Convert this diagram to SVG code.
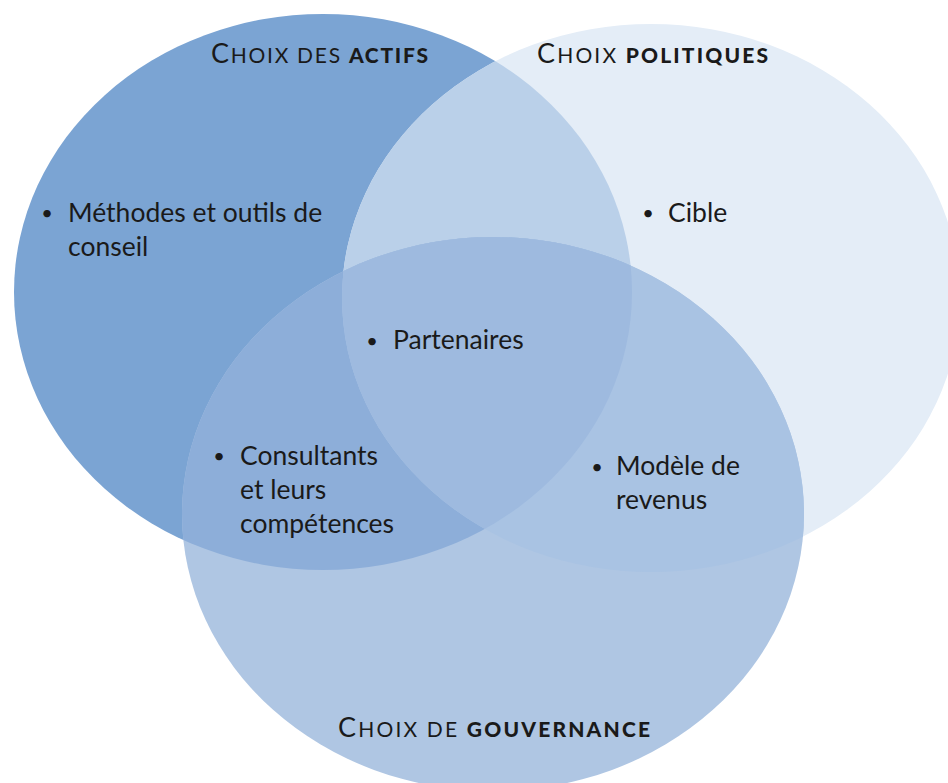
<svg xmlns="http://www.w3.org/2000/svg" width="948" height="783" viewBox="0 0 948 783">
<style>
text{font-family:Lato,"Liberation Sans",sans-serif;fill:#1a1a1a}
.t{font-size:26.5px}
.d{font-size:20px;text-anchor:middle}
.h{font-size:27px}
.sc{font-size:21px}
.b{font-weight:900}
</style>
<defs>
<ellipse id="eL" cx="323" cy="292" rx="309" ry="278"/>
<ellipse id="eR" cx="651" cy="298" rx="309" ry="274"/>
<ellipse id="eB" cx="493" cy="514" rx="311" ry="277"/>
<clipPath id="cL"><use href="#eL"/></clipPath>
<clipPath id="cR"><use href="#eR"/></clipPath>
</defs>
<rect width="948" height="783" fill="#ffffff"/>
<g id="circles">
<use href="#eL" fill="#7BA4D3"/>
<use href="#eR" fill="#E4EDF7"/>
<use href="#eB" fill="#AFC6E3"/>
<use href="#eR" fill="#BAD0E9" clip-path="url(#cL)"/>
<use href="#eB" fill="#8DAED9" clip-path="url(#cL)"/>
<use href="#eB" fill="#A9C3E3" clip-path="url(#cR)"/>
<g clip-path="url(#cL)"><use href="#eB" fill="#9EBADF" clip-path="url(#cR)"/></g>
</g>
<g id="actifs"><text x="211" y="63" textLength="217" lengthAdjust="spacing"><tspan class="h">C</tspan><tspan class="sc">HOIX DES </tspan><tspan class="sc b">ACTIFS</tspan></text>
<text class="d" x="47" y="220">•</text><text class="t" x="68" y="222">Méthodes et outils de</text><text class="t" x="68" y="256">conseil</text></g>
<g id="politiques"><text x="537" y="63" textLength="231" lengthAdjust="spacing"><tspan class="h">C</tspan><tspan class="sc">HOIX </tspan><tspan class="sc b">POLITIQUES</tspan></text>
<text class="d" x="648" y="220">•</text><text class="t" x="668" y="222">Cible</text></g>
<g id="gouvernance"><text x="338" y="737" textLength="312" lengthAdjust="spacing"><tspan class="h">C</tspan><tspan class="sc">HOIX DE </tspan><tspan class="sc b">GOUVERNANCE</tspan></text></g>
<g id="partenaires"><text class="d" x="372" y="348">•</text><text class="t" x="393" y="349">Partenaires</text></g>
<g id="consultants"><text class="d" x="219" y="463">•</text><text class="t" x="240" y="465">Consultants</text><text class="t" x="240" y="499">et leurs</text><text class="t" x="240" y="533">compétences</text></g>
<g id="modele"><text class="d" x="597" y="474">•</text><text class="t" x="616" y="475">Modèle de</text><text class="t" x="616" y="509">revenus</text></g>
<g id="connectors"/>
</svg>
